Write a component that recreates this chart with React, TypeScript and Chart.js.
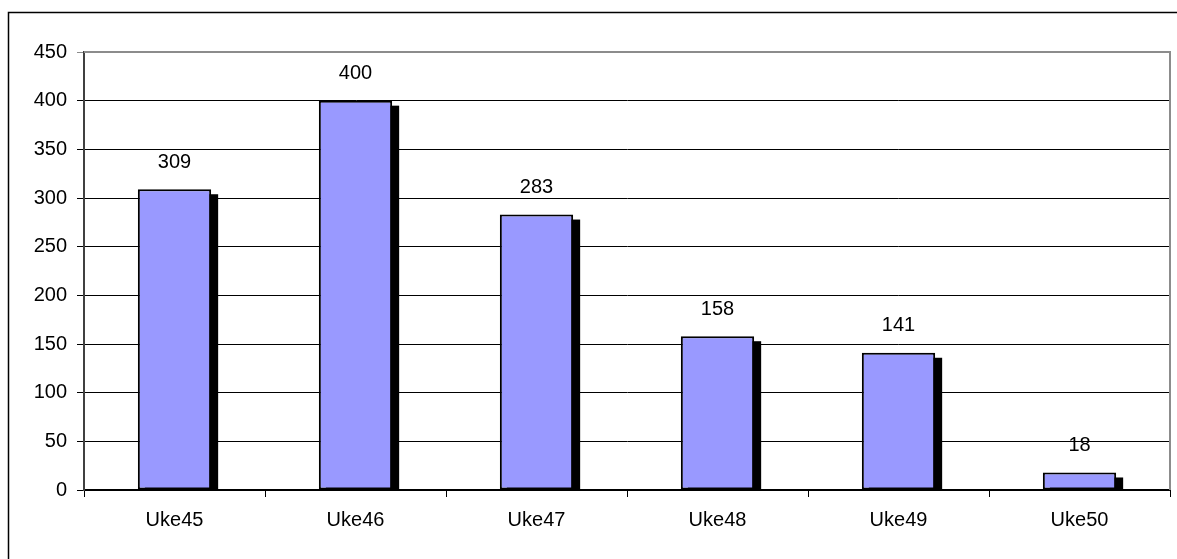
import React, { useEffect, useRef } from "react";
import { Chart, registerables } from "chart.js";

Chart.register(...registerables);

const categories = ["Uke45", "Uke46", "Uke47", "Uke48", "Uke49", "Uke50"];
const values = [309, 400, 283, 158, 141, 18];
const yMin = 0;
const yMax = 450;
const yStep = 50;

const FONT = "'Liberation Sans', Arial, sans-serif";

const framePlugin = {
  id: "frame",
  beforeDraw(chart: any) {
    const ctx = chart.ctx;
    ctx.save();
    ctx.fillStyle = "#ffffff";
    ctx.fillRect(0, 0, chart.width, chart.height);
    ctx.strokeStyle = "#000000";
    ctx.lineWidth = 1.5;
    ctx.beginPath();
    ctx.moveTo(8.5, chart.height + 5);
    ctx.lineTo(8.5, 12.5);
    ctx.lineTo(chart.width + 5, 12.5);
    ctx.stroke();
    ctx.restore();
  },
};

const shadowPlugin = {
  id: "barShadow",
  beforeDatasetsDraw(chart: any) {
    const ctx = chart.ctx;
    const meta = chart.getDatasetMeta(0);
    ctx.save();
    ctx.fillStyle = "#000000";
    meta.data.forEach((bar: any) => {
      const { x, y, base, width } = bar.getProps(["x", "y", "base", "width"], true);
      const left = x - width / 2 + 7;
      const top = y + 5;
      if (base > top) ctx.fillRect(left, top, width, base - top);
    });
    ctx.restore();
  },
  afterDatasetsDraw(chart: any) {
    const ctx = chart.ctx;
    const area = chart.chartArea;
    ctx.save();
    ctx.strokeStyle = "#8c8c8c";
    ctx.lineWidth = 2;
    ctx.beginPath();
    ctx.moveTo(area.left, area.top);
    ctx.lineTo(area.right, area.top);
    ctx.lineTo(area.right, area.bottom);
    ctx.stroke();
    const meta = chart.getDatasetMeta(0);
    ctx.fillStyle = "#000000";
    ctx.font = `20px ${FONT}`;
    ctx.textAlign = "center";
    ctx.textBaseline = "middle";
    meta.data.forEach((bar: any, i: number) => {
      const { x, y } = bar.getProps(["x", "y"], true);
      ctx.fillText(String(values[i]), x, y - 27);
    });
    ctx.restore();
  },
};

export default function App() {
  const ref = useRef<HTMLCanvasElement | null>(null);

  useEffect(() => {
    if (!ref.current) return;
    const chart = new Chart(ref.current, {
      type: "bar",
      data: {
        labels: categories,
        datasets: [
          {
            data: values,
            backgroundColor: "#9999ff",
            borderColor: "#000000",
            borderWidth: 2,
            borderSkipped: false,
            categoryPercentage: 1,
            barPercentage: 0.405,
          },
        ],
      },
      options: {
        responsive: false,
        animation: false,
        devicePixelRatio: 1,
        layout: { padding: { top: 52, right: 7, bottom: 0, left: 0 } },
        plugins: {
          legend: { display: false },
          tooltip: { enabled: false },
          title: { display: false },
        },
        scales: {
          x: {
            offset: true,
            afterFit(scale: any) {
              scale.height = 69;
            },
            grid: {
              offset: true,
              drawOnChartArea: false,
              drawTicks: true,
              tickLength: 7,
              color: "#000000",
              lineWidth: 1,
            },
            border: { display: true, color: "#000000", width: 2 },
            ticks: {
              color: "#000000",
              font: { family: FONT, size: 20 },
              padding: 11,
              maxRotation: 0,
            },
          },
          y: {
            min: yMin,
            max: yMax,
            afterFit(scale: any) {
              scale.width = 84;
            },
            grid: {
              color: (c: any) => (c.tick && c.tick.value === yMax ? "#8c8c8c" : "#000000"),
              lineWidth: 1,
              drawTicks: true,
              tickLength: 7,
            },
            border: { display: true, color: "#404040", width: 2 },
            ticks: {
              stepSize: yStep,
              color: "#000000",
              font: { family: FONT, size: 20 },
              padding: 10,
            },
          },
        },
      },
      plugins: [framePlugin, shadowPlugin],
    });
    return () => chart.destroy();
  }, []);

  return (
    <div style={{ position: "fixed", left: 0, top: 0, width: 1177, height: 559, background: "#fff" }}>
      <canvas ref={ref} width={1177} height={559} style={{ width: 1177, height: 559, display: "block" }} />
    </div>
  );
}
